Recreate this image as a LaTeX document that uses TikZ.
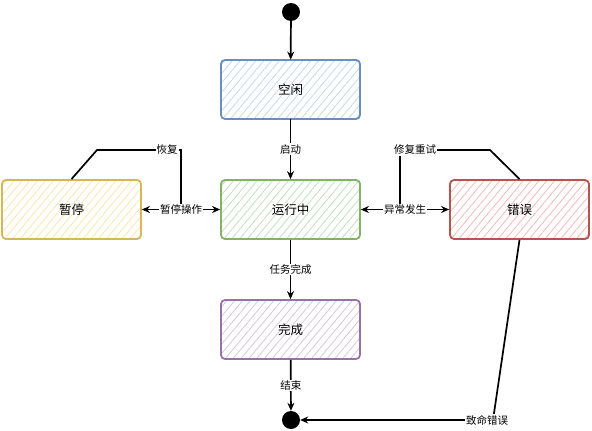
\documentclass[tikz,border=0pt]{standalone}
\usepackage{fontspec}
\newfontfamily\cjk{Noto Sans CJK SC}
\usetikzlibrary{patterns.meta,arrows.meta}
\definecolor{bluel}{HTML}{6C8EBF}\definecolor{bluef}{HTML}{C4D8F2}
\definecolor{greenl}{HTML}{82B366}\definecolor{greenf}{HTML}{C2DFBD}
\definecolor{yell}{HTML}{D6B656}\definecolor{yelf}{HTML}{F8E6B0}
\definecolor{redl}{HTML}{B85450}\definecolor{redf}{HTML}{F3BBB8}
\definecolor{purl}{HTML}{9673A6}\definecolor{purf}{HTML}{D6C6DF}
\begin{document}
\begin{tikzpicture}[x=1pt,y=-1pt,
  statebox/.style={draw, line width=1.8pt, rounded corners=4pt, minimum width=139pt, minimum height=59pt, inner sep=0pt,
    pattern={Lines[angle=50,distance=6pt,line width=0.8pt]}, font=\cjk\fontsize{12.5}{13}\selectfont},
  lbl/.style={fill=white, inner sep=1pt, font=\cjk\fontsize{10.5}{11}\selectfont},
  dot/.style={circle, fill=black, minimum size=18pt, inner sep=0pt},
  conn/.style={line width=1.7pt, -{Stealth[length=8pt,width=7pt]}},
  conn2/.style={line width=1.7pt, {Stealth[length=8pt,width=7pt]}-{Stealth[length=8pt,width=7pt]}}]
\useasboundingbox (0,0) rectangle (592,431);
\node[dot] (start) at (291,12) {};
\node[dot] (end) at (291,420) {};
\node[statebox, draw=bluel, pattern color=bluef] (idle) at (290.5,89.5) {空闲};
\node[statebox, draw=greenl, pattern color=greenf] (run) at (290.5,209.5) {运行中};
\node[statebox, draw=yell, pattern color=yelf] (pause) at (71.5,209.5) {暂停};
\node[statebox, draw=redl, pattern color=redf] (err) at (519.5,209.5) {错误};
\node[statebox, draw=purl, pattern color=purf] (done) at (290.5,329.5) {完成};
\draw[conn] (start) -- (idle);
\draw[conn] (idle) -- node[lbl] (lstart) {启动} (run);
\draw[conn] (run) -- node[lbl] (ldone) {任务完成} (done);
\draw[conn] (done) -- node[lbl] (lend) {结束} (end);
\draw[conn2] (pause) -- node[lbl] (lpause) {暂停操作} (run);
\draw[conn2] (run) -- node[lbl] (lexc) {异常发生} (err);
\coordinate (r1) at (97,150);
\coordinate (r2) at (181,150);
\coordinate (r3) at (181,209.5);
\draw[line width=1.7pt] (pause.north) -- (r1) -- (r2) -- (r3);
\node[lbl] (lres) at (167,150) {恢复};
\coordinate (f1) at (490,150);
\coordinate (f2) at (400,150);
\coordinate (f3) at (400,209.5);
\draw[line width=1.7pt] (err.north) -- (f1) -- (f2) -- (f3);
\node[lbl] (lfix) at (415,150) {修复重试};
\coordinate (e1) at (493,420);
\draw[line width=1.7pt] (err.south) -- (e1);
\draw[conn] (e1) -- (end);
\node[lbl] (lfatal) at (487,420) {致命错误};
\node[lbl] at (lpause) {暂停操作};
\node[lbl] at (lexc) {异常发生};
\end{tikzpicture}
\end{document}
